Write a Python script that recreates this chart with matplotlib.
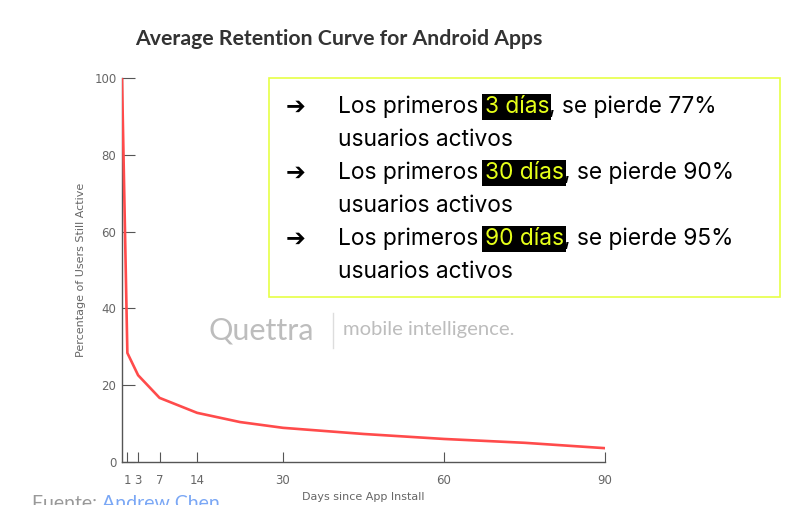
import matplotlib
matplotlib.use("Agg")
import matplotlib.pyplot as plt
from matplotlib.patches import Rectangle
from matplotlib.lines import Line2D

# ---- data ----
days = [0, 1, 3, 7, 14, 22, 30, 45, 60, 75, 90]
retention = [100, 28.4, 22.6, 16.7, 12.8, 10.4, 8.9, 7.3, 6.0, 5.0, 3.6]
x_ticks = [1, 3, 7, 14, 30, 60, 90]
y_ticks = [0, 20, 40, 60, 80, 100]
title = "Average Retention Curve for Android Apps"
x_label = "Days since App Install"
y_label = "Percentage of Users Still Active"
bullets = [
    ("Los primeros ", "3 días", ", se pierde 77%", "usuarios activos"),
    ("Los primeros ", "30 días", ", se pierde 90%", "usuarios activos"),
    ("Los primeros ", "90 días", ", se pierde 95%", "usuarios activos"),
]

W, H = 795, 505
fig = plt.figure(figsize=(W / 100, H / 100), dpi=100)
fig.patch.set_facecolor("white")


def fx(x):
    return x / W


def fy(y):
    return 1 - y / H


# axes: x 0 -> px 122, x 90 -> px 605 ; y 0 -> px 462, y 100 -> px 78
ax = fig.add_axes([fx(122), fy(462), fx(605) - fx(122), (462 - 78) / H])
ax.plot(days, retention, color="#ff4b4b", lw=1.9, solid_joinstyle="round")
ax.set_xlim(0, 90)
ax.set_ylim(0, 100)
ax.set_xticks(x_ticks)
ax.set_yticks(y_ticks)
for s in ["top", "right"]:
    ax.spines[s].set_visible(False)
for s in ["left", "bottom"]:
    ax.spines[s].set_color("#555555")
    ax.spines[s].set_linewidth(1.0)
    ax.spines[s].set_zorder(0)
ax.tick_params(axis="y", direction="in", length=9.4, width=0.8, color="#555555",
               labelsize=8.5, labelcolor="#666666", pad=4)
ax.tick_params(axis="x", direction="in", length=7, width=0.8, color="#555555",
               labelsize=8.5, labelcolor="#666666", pad=9)
for lab in ax.get_xticklabels() + ax.get_yticklabels():
    lab.set_family("DejaVu Sans")
ax.set_xlabel(x_label, fontsize=8, color="#666666", labelpad=3)
ax.set_ylabel(y_label, fontsize=8, color="#666666", labelpad=6)
ax.patch.set_alpha(0)

# title
fig.text(fx(135), fy(39), title, fontsize=15.3, fontweight="bold", color="#333333",
         family="Lato", va="center", ha="left")

# watermark
fig.text(fx(208), fy(330), "Quettra", fontsize=22, color="#bdbdbd", family="Lato",
         va="center", ha="left")
fig.add_artist(Line2D([fx(333), fx(333)], [fy(313), fy(348)], color="#dddddd", lw=1,
                      transform=fig.transFigure))
fig.text(fx(343), fy(330), "mobile intelligence.", fontsize=14.6, color="#bdbdbd",
         family="Lato", va="center", ha="left")

# text box
fig.add_artist(Rectangle((fx(269), fy(297)), fx(780) - fx(269), (297 - 78) / H,
                         transform=fig.transFigure, fill=True, fc="white",
                         ec="#e6ff45", lw=1.2, zorder=5))

fig.canvas.draw()
renderer = fig.canvas.get_renderer()
FS = 16.4
FAM = "Inter"


def width_of(s, fs=FS, fam=FAM):
    t = fig.text(0, 0, s + "x", fontsize=fs, family=fam)
    tx = fig.text(0, 0, "x", fontsize=fs, family=fam)
    w = t.get_window_extent(renderer).width - tx.get_window_extent(renderer).width
    t.remove()
    tx.remove()
    return w


base_y = [113, 179, 245]
for (pre, hl, post, line2), by in zip(bullets, base_y):
    fig.text(fx(286), fy(by - 6), "➔", fontsize=17, family="DejaVu Sans",
             fontweight="bold", color="black", va="center", ha="left", zorder=6)
    x = 338
    fig.text(fx(x), fy(by), pre, fontsize=FS, family=FAM, color="black",
             va="baseline", ha="left", zorder=6)
    x += width_of(pre)
    fig.text(fx(x), fy(by), hl, fontsize=FS, family=FAM, color="#e6ff1a",
             va="baseline", ha="left", zorder=6,
             bbox=dict(boxstyle="square,pad=0.1", fc="black", ec="none"))
    x += width_of(hl)
    fig.text(fx(x), fy(by), post, fontsize=FS, family=FAM, color="black",
             va="baseline", ha="left", zorder=6)
    fig.text(fx(338), fy(by + 33), line2, fontsize=FS, family=FAM, color="black",
             va="baseline", ha="left", zorder=6)

# source (cut off at bottom, as in the reference)
SFS = 14
fig.text(fx(32), fy(495), "Fuente: ", fontsize=SFS, family="Lato",
         color="#999999", va="top", ha="left")
w1 = width_of("Fuente: ", SFS, "Lato")
fig.text(fx(32 + w1), fy(495), "Andrew Chen",
         fontsize=SFS, family="Lato", color="#7aa7f5", va="top", ha="left")

fig.savefig("out.png", dpi=100)
